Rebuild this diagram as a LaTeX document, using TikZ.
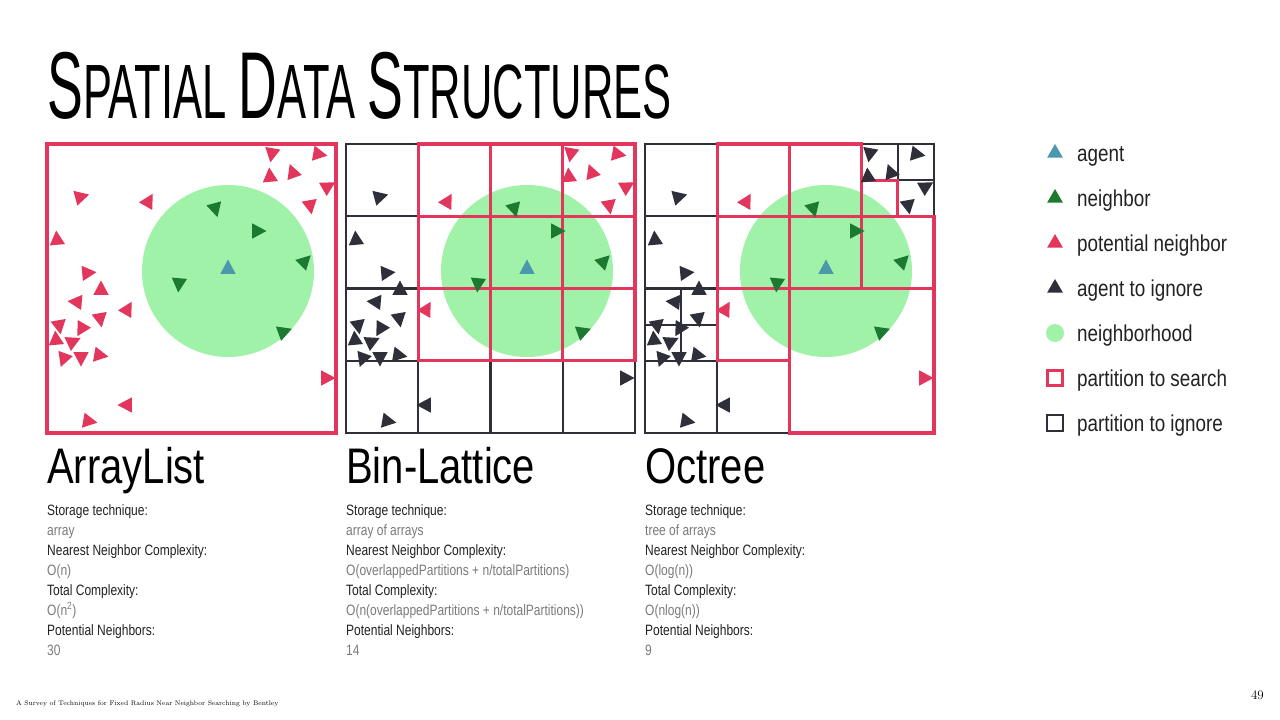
\documentclass[tikz,border=0pt]{standalone}
\usepackage{fontspec}
\usetikzlibrary{shapes.geometric}
\newfontfamily\titlefont[FakeStretch=0.565]{Liberation Sans}
\newfontfamily\handfont[FakeStretch=0.8]{Liberation Sans}
\newfontfamily\legendfont[FakeStretch=0.82]{Liberation Sans}
\definecolor{cPotential}{HTML}{E2365C}
\definecolor{cIgnore}{HTML}{2E2F38}
\definecolor{cNeighbor}{HTML}{1B7A30}
\definecolor{cAgent}{HTML}{4A98AB}
\definecolor{cHood}{HTML}{A1F2A9}
\definecolor{txtlabel}{HTML}{222222}
\definecolor{txtvalue}{HTML}{7A7A7A}
\newcommand{\capletter}[1]{{\fontsize{95}{95}\selectfont #1}}
% agents outside the neighborhood: x/y/angle/colour in bin-lattice/colour in octree
\newcommand{\strays}{%
  225/9/-100/cPotential/cIgnore, 271/10/-10/cPotential/cIgnore,
  223/33/95/cPotential/cIgnore, 246/29/110/cPotential/cIgnore,
  280/43/30/cPotential/cIgnore, 263/61/-80/cPotential/cIgnore,
  33/53/15/cIgnore/cIgnore, 101/58/60/cPotential/cPotential,
  10/96/95/cIgnore/cIgnore, 40/129/5/cIgnore/cIgnore,
  54/146/90/cIgnore/cIgnore, 30/158/175/cIgnore/cIgnore,
  80/166/60/cPotential/cPotential, 53/174/-80/cIgnore/cIgnore,
  12/181/-80/cIgnore/cIgnore, 35/184/-120/cIgnore/cIgnore,
  9/196/95/cIgnore/cIgnore, 25/198/25/cIgnore/cIgnore,
  17/214/-110/cIgnore/cIgnore, 34/213/-90/cIgnore/cIgnore,
  52/211/-10/cIgnore/cIgnore, 279/234/0/cIgnore/cPotential,
  80/261/180/cIgnore/cIgnore, 41/277/-10/cIgnore/cIgnore}
\newcommand{\neighbors}{168/64/-75, 210/87/0, 257/118/45, 132/139/-95, 236/188/20}
\tikzset{
  hood/.style={fill=cHood},
  searchbox/.style={draw=cPotential, line width=3.2pt},
  ignorebox/.style={draw=cIgnore, line width=2.2pt},
  title/.style={font=\titlefont\fontsize{77}{77}\selectfont, anchor=base west, inner sep=0pt},
  heading/.style={font=\handfont\fontsize{50}{50}\selectfont, anchor=base west, inner sep=0pt},
  statlbl/.style={font=\handfont\fontsize{15}{18}\selectfont, text=txtlabel, anchor=base west, inner sep=0pt},
  statval/.style={statlbl, text=txtvalue},
  legtxt/.style={font=\legendfont\fontsize{23}{25}\selectfont, text=txtlabel, anchor=base west, inner sep=0pt},
  legtri/.style={regular polygon, regular polygon sides=3, minimum size=18pt, inner sep=0pt},
  boid/.pic={\fill (0:9.5pt) -- (122:9pt) -- (238:9pt) -- cycle;},
}

\begin{document}
\begin{tikzpicture}[x=1pt, y=-1pt]
  \useasboundingbox[fill=white] (0,0) rectangle (1280,720);

  \node[title] (title) at (47,118) {\capletter{S}PATIAL \capletter{D}ATA \capletter{S}TRUCTURES};

  % ArrayList
  \begin{scope}[shift={(47,144)}]
    \fill[hood] (181,127) circle (86);
    \draw[searchbox] (0,0) rectangle (289,289);
    \foreach \x/\y/\a/\b/\c in \strays
      \pic[rotate=\a, fill=cPotential] at (\x,\y) {boid};
    \foreach \x/\y/\a in \neighbors
      \pic[rotate=\a, fill=cNeighbor] at (\x,\y) {boid};
    \pic[rotate=90, fill=cAgent] at (181,125) {boid};
  \end{scope}

  % Bin-Lattice
  \begin{scope}[shift={(346,144)}]
    \fill[hood] (181,127) circle (86);
    \foreach \i in {0,...,3}
      \foreach \j in {0,...,3}
        \draw[ignorebox] (\i*72.25,\j*72.25) rectangle ++(72.25,72.25);
    \foreach \i in {1,2,3}
      \foreach \j in {0,1,2}
        \draw[searchbox] (\i*72.25,\j*72.25) rectangle ++(72.25,72.25);
    \foreach \x/\y/\a/\b/\c in \strays
      \pic[rotate=\a, fill=\b] at (\x,\y) {boid};
    \foreach \x/\y/\a in \neighbors
      \pic[rotate=\a, fill=cNeighbor] at (\x,\y) {boid};
    \pic[rotate=90, fill=cAgent] at (181,125) {boid};
  \end{scope}

  % Octree
  \begin{scope}[shift={(645,144)}]
    \fill[hood] (181,127) circle (86);
    \foreach \x/\y/\s in {0/0/72.25, 0/72.25/72.25, 0/216.75/72.25, 72.25/216.75/72.25,
        0/144.5/36.125, 36.125/144.5/36.125, 0/180.625/36.125, 36.125/180.625/36.125,
        216.75/0/36.125, 252.875/0/36.125, 252.875/36.125/36.125}
      \draw[ignorebox] (\x,\y) rectangle ++(\s,\s);
    \foreach \x/\y/\s in {72.25/0/72.25, 72.25/72.25/72.25, 144.5/0/72.25, 144.5/72.25/72.25,
        216.75/72.25/72.25, 216.75/36.125/36.125, 72.25/144.5/72.25, 144.5/144.5/144.5}
      \draw[searchbox] (\x,\y) rectangle ++(\s,\s);
    \foreach \x/\y/\a/\b/\c in \strays
      \pic[rotate=\a, fill=\c] at (\x,\y) {boid};
    \foreach \x/\y/\a in \neighbors
      \pic[rotate=\a, fill=cNeighbor] at (\x,\y) {boid};
    \pic[rotate=90, fill=cAgent] at (181,125) {boid};
  \end{scope}

  % names and figures
  \node[heading] (arraylist) at (47,483) {ArrayList};
  \node[heading] (binlattice) at (346,483) {Bin-Lattice};
  \node[heading] (octree) at (645,483) {Octree};

  \foreach \lbl/\val [count=\i from 0] in {Storage technique:/array,
      Nearest Neighbor Complexity:/O(n), Total Complexity:/O(n\textsuperscript{2}),
      Potential Neighbors:/30} {
    \node[statlbl] (al-lbl\i) at (47,515+40*\i) {\lbl};
    \node[statval] (al-val\i) at (47,535+40*\i) {\val};
  }
  \foreach \lbl/\val [count=\i from 0] in {Storage technique:/array of arrays,
      Nearest Neighbor Complexity:/{O(overlappedPartitions + n/totalPartitions)},
      Total Complexity:/{O(n(overlappedPartitions + n/totalPartitions))},
      Potential Neighbors:/14} {
    \node[statlbl] (bl-lbl\i) at (346,515+40*\i) {\lbl};
    \node[statval] (bl-val\i) at (346,535+40*\i) {\val};
  }
  \foreach \lbl/\val [count=\i from 0] in {Storage technique:/tree of arrays,
      Nearest Neighbor Complexity:/O(log(n)), Total Complexity:/O(nlog(n)),
      Potential Neighbors:/9} {
    \node[statlbl] (oc-lbl\i) at (645,515+40*\i) {\lbl};
    \node[statval] (oc-val\i) at (645,535+40*\i) {\val};
  }

  % legend
  \node[legtri, fill=cAgent] (lg-agent) at (1055,153) {};
  \node[legtri, fill=cNeighbor] (lg-neighbor) at (1055,198) {};
  \node[legtri, fill=cPotential] (lg-potential) at (1055,243) {};
  \node[legtri, fill=cIgnore] (lg-ignore) at (1055,288) {};
  \node[circle, fill=cHood, minimum size=18pt, inner sep=0pt] (lg-hood) at (1055,333) {};
  \node[rectangle, draw=cPotential, line width=3.2pt, minimum size=15pt, inner sep=0pt] (lg-search) at (1055,378) {};
  \node[rectangle, draw=cIgnore, line width=2.2pt, minimum size=16pt, inner sep=0pt] (lg-skip) at (1055,423) {};
  \node[legtxt] (lt-agent) at (1077,161) {agent};
  \node[legtxt] (lt-neighbor) at (1077,206) {neighbor};
  \node[legtxt] (lt-potential) at (1077,251) {potential neighbor};
  \node[legtxt] (lt-ignore) at (1077,296) {agent to ignore};
  \node[legtxt] (lt-hood) at (1077,341) {neighborhood};
  \node[legtxt] (lt-search) at (1077,386) {partition to search};
  \node[legtxt] (lt-skip) at (1077,431) {partition to ignore};

  \node[anchor=base west, inner sep=0pt, font=\fontsize{6.7}{8}\selectfont] (source) at (16,705)
    {A Survey of Techniques for Fixed Radius Near Neighbor Searching by Bentley};
  \node[anchor=base east, inner sep=0pt, font=\fontsize{13}{15}\selectfont] (page) at (1264,699) {49};
\end{tikzpicture}
\end{document}
